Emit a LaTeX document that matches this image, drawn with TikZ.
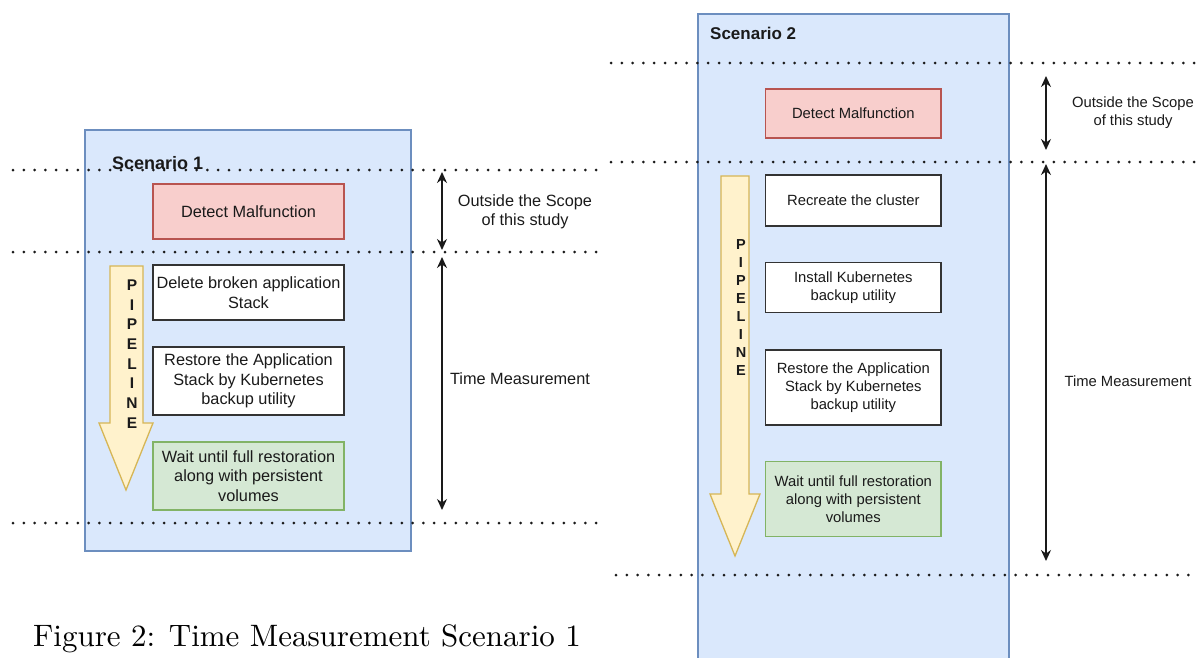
\documentclass[tikz,border=0pt]{standalone}
\usepackage{fontspec}
\newfontfamily\dsans{Liberation Sans}
\newfontfamily\capfont{lmroman10-regular.otf}
\usetikzlibrary{arrows.meta}
\definecolor{bluefill}{HTML}{DAE8FC}
\definecolor{bluestroke}{HTML}{6C8EBF}
\definecolor{redfill}{HTML}{F8CECC}
\definecolor{redstroke}{HTML}{B85450}
\definecolor{greenfill}{HTML}{D5E8D4}
\definecolor{greenstroke}{HTML}{82B366}
\definecolor{yellowfill}{HTML}{FFF2CC}
\definecolor{yellowstroke}{HTML}{D6B656}
\definecolor{ink}{HTML}{1A1A1A}
\begin{document}
\begin{tikzpicture}[x=1pt,y=-1pt,
  dotline/.style={line width=3pt, dash pattern=on 0pt off 10.8pt, line cap=round, ink},
  scen/.style={draw=bluestroke, fill=bluefill, line width=1.3pt},
  stepbox/.style={draw=black!80, fill=white, line width=1.4pt, inner sep=0pt, align=center, text=ink},
  redbox/.style={stepbox, draw=redstroke, fill=redfill},
  greenbox/.style={stepbox, draw=greenstroke, fill=greenfill},
  pipe/.style={draw=yellowstroke, fill=yellowfill, line width=1.3pt},
  fa/.style={font=\dsans\fontsize{16.3}{19.5}\selectfont},
  fb/.style={font=\dsans\fontsize{14.8}{18}\selectfont},
  ttl/.style={anchor=west, text=ink, inner sep=0pt},
  lbl/.style={align=center, text=ink, inner sep=0pt},
  darr/.style={{Stealth[length=11pt,width=10pt]}-{Stealth[length=11pt,width=10pt]}, line width=1.4pt, ink},
]
\useasboundingbox (0,0) rectangle (1203,657);

% ---------------- Scenario 1 ----------------
\draw[scen] (85,130) rectangle (411,551);
\node[ttl, font=\dsans\bfseries\fontsize{18}{20}\selectfont] (t1) at (112,163) {Scenario 1};

\node[redbox, fa, minimum width=191pt, minimum height=55pt] (a1) at (248.5,211.5) {Detect Malfunction};
\node[stepbox, fa, minimum width=191pt, minimum height=55pt] (a2) at (248.5,292.5) {Delete broken application\\Stack};
\node[stepbox, fa, minimum width=191pt, minimum height=68pt] (a3) at (248.5,381) {Restore the Application\\Stack by Kubernetes\\backup utility};
\node[greenbox, fa, minimum width=191pt, minimum height=68pt] (a4) at (248.5,476) {Wait until full restoration\\along with persistent\\volumes};

\draw[pipe] (110,266) -- (143,266) -- (143,423) -- (153,423) -- (126,490) -- (99,423) -- (110,423) -- cycle;
\node[lbl, font=\dsans\bfseries\fontsize{15.5}{19.7}\selectfont] (p1) at (132,354) {P\\I\\P\\E\\L\\I\\N\\E};

\draw[dotline] (13,170) -- (606,170);
\draw[dotline] (13,252) -- (601,252);
\draw[dotline] (13,523) -- (601,523);

\coordinate (o1t) at (442,172);
\coordinate (o1b) at (442,250);
\coordinate (m1t) at (442,257);
\coordinate (m1b) at (442,510);
\draw[darr] (o1t) -- (o1b);
\draw[darr] (m1t) -- (m1b);
\node[lbl, fa] (l1) at (525,212) {Outside the Scope\\of this study};
\node[lbl, fa] (l2) at (520,379) {Time Measurement};

\node[anchor=base west, inner sep=0pt, font=\capfont\fontsize{31}{36}\selectfont] (cap) at (33,646) {Figure 2: Time Measurement Scenario 1};

% ---------------- Scenario 2 ----------------
\draw[scen] (698,14) rectangle (1009,700);
\node[ttl, font=\dsans\bfseries\fontsize{17}{20}\selectfont] (t2) at (710,33) {Scenario 2};

\node[redbox, fb, minimum width=175.4pt, minimum height=49pt] (b1) at (853.3,113.5) {Detect Malfunction};
\node[stepbox, fb, minimum width=175.4pt, minimum height=51pt] (b2) at (853.3,200.5) {Recreate the cluster};
\node[stepbox, fb, minimum width=175.4pt, minimum height=50pt] (b3) at (853.3,287.5) {Install Kubernetes\\backup utility};
\node[stepbox, fb, minimum width=175.4pt, minimum height=75pt] (b4) at (853.3,387.5) {Restore the Application\\Stack by Kubernetes\\backup utility};
\node[greenbox, fb, minimum width=175.4pt, minimum height=75pt] (b5) at (853.3,499) {Wait until full restoration\\along with persistent\\volumes};

\draw[pipe] (721,176) -- (749,176) -- (749,494) -- (760,494) -- (735,556) -- (710,494) -- (721,494) -- cycle;
\node[lbl, font=\dsans\bfseries\fontsize{14.5}{18.1}\selectfont] (p2) at (741,307.5) {P\\I\\P\\E\\L\\I\\N\\E};

\draw[dotline] (611,63) -- (1200,63);
\draw[dotline] (611,162) -- (1200,162);
\draw[dotline] (616,575) -- (1196,575);

\coordinate (o2t) at (1046,76);
\coordinate (o2b) at (1046,150);
\coordinate (m2t) at (1046,164);
\coordinate (m2b) at (1046,561);
\draw[darr] (o2t) -- (o2b);
\draw[darr] (m2t) -- (m2b);
\node[lbl, fb] (l3) at (1133,113) {Outside the Scope\\of this study};
\node[lbl, fb] (l4) at (1128,381) {Time Measurement};
\end{tikzpicture}
\end{document}
